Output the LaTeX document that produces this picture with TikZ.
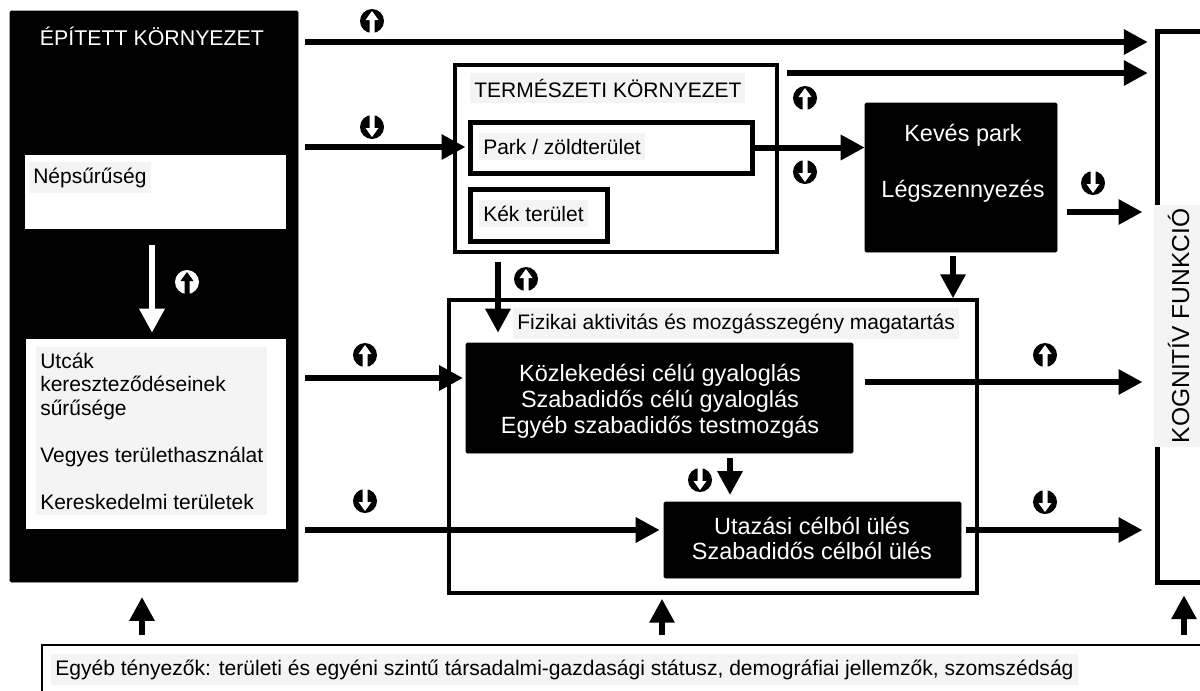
\documentclass[tikz,border=0pt]{standalone}
\usepackage{fontspec}
\setmainfont{Liberation Sans}
\usetikzlibrary{arrows.meta,fit}

\definecolor{hlgray}{RGB}{244,244,244}

\tikzset{
  flow/.style={line width=4.5pt,-{Triangle[length=18pt,width=18pt]}},
  blackbox/.style={fill=black,draw=black,rounded corners=1pt,inner sep=0pt},
  whitebox/.style={fill=white,inner sep=0pt},
  framebox/.style={draw=black,fill=white,inner sep=0pt,line width=#1},
  txt/.style={inner sep=0pt,font=\fontsize{15.75}{17.6}\selectfont},
  hl/.style={fill=hlgray,inner xsep=3pt,inner ysep=4pt},
  bigtxt/.style={inner sep=0pt,text=white,align=center,font=\fontsize{17.6}{19.5}\selectfont},
  pics/updown/.style 2 args={code={
    \fill[#1] (0,0) circle (12);
    \fill[#2] (-2.5,-12.5) -- (-2.5,1) -- (-6.5,1) -- (0,10) -- (6.5,1) -- (2.5,1) -- (2.5,-12.5) -- cycle;
  }},
}

\begin{document}
\begin{tikzpicture}[x=0.75pt,y=0.75pt,yscale=-1,xscale=1]
\useasboundingbox (0,0) rectangle (1200,690);
\clip (0,0) rectangle (1200,690);

%Shape: Rectangle - epitett kornyezet
\node[blackbox, fit={(10,11) (298,582)}] (epitett) {};
\node[whitebox, fit={(25,155) (286,229)}] (nepsur) {};
\node[whitebox, fit={(26,339) (286,529)}] (utcak) {};

%Shape: Rectangle - termeszeti kornyezet
\node[framebox=2.5pt, fit={(455,65) (777,252)}] (termeszet) {};
\node[framebox=3.75pt, fit={(470,122) (752,173)}] (park) {};
\node[framebox=3.75pt, fit={(470,189) (607,241)}] (kek) {};

%Shape: Rectangle - keves park
\node[blackbox, fit={(865,103) (1057,252)}] (keves) {};

%Shape: Rectangle - fizikai aktivitas
\node[framebox=2.5pt, fit={(449,300) (977,593)}] (fizikai) {};
\node[blackbox, fit={(466,343) (853,453)}] (kozl) {};
\node[blackbox, fit={(664,502) (961,578)}] (utazas) {};

%Shape: Rectangle - kognitiv funkcio
\node[framebox=3.75pt, fit={(1157,31) (1215,582)}] (kognitiv) {};

%Shape: Rectangle - egyeb tenyezok
\node[framebox=2pt, fit={(42,645) (1215,700)}] (egyeb) {};

% Text Node
\node[txt, text=white, anchor=base, font=\fontsize{16}{18}\selectfont] (epitettcim) at (152,45) {ÉPÍTETT KÖRNYEZET};
\node[txt, hl, anchor=base west] (nepsurt) at (29,183) {Népsűrűség};
\node[txt, hl, anchor=base west, align=left] (utcakt) at (36,509) {Utcák\\kereszteződéseinek\\sűrűsége\\[17.6pt]Vegyes területhasználat\\[17.6pt]Kereskedelmi területek};
\node[txt, hl, anchor=base west] (termeszett) at (470,97) {TERMÉSZETI KÖRNYEZET};
\node[txt, hl, anchor=base west] (parkt) at (479,154) {Park / zöldterület};
\node[txt, hl, anchor=base west] (kekt) at (479,221) {Kék terület};
\node[bigtxt, anchor=base] (kevest) at (963,141) {Kevés park};
\node[bigtxt, anchor=base] (legszt) at (963,197) {Légszennyezés};
\node[txt, hl, anchor=base west] (fizikait) at (513,329) {Fizikai aktivitás és mozgásszegény magatartás};
\node[bigtxt, anchor=base] (kozlt) at (660,433) {Közlekedési célú gyaloglás\\Szabadidős célú gyaloglás\\Egyéb szabadidős testmozgás};
\node[bigtxt, anchor=base, font=\fontsize{17.6}{18.75}\selectfont] (utazast) at (812,559) {Utazási célból ülés\\Szabadidős célból ülés};
\node[txt, hl, anchor=base, rotate=90, font=\fontsize{18.4}{20}\selectfont, inner ysep=10pt] (kognitivt) at (1189,326) {KOGNITÍV FUNKCIÓ};
\node[txt, hl, anchor=base west, font=\fontsize{15.8}{18}\selectfont] (egyebt) at (51,675) {Egyéb tényezők: területi és egyéni szintű társadalmi-gazdasági státusz, demográfiai jellemzők, szomszédság};

%Straight Lines
\coordinate (s1) at (305,42);
\coordinate (s2) at (787,73);
\coordinate (s3) at (305,147);
\coordinate (s5) at (1067,212);
\coordinate (s6) at (953,256);
\coordinate (s7) at (498,262);
\coordinate (s8) at (305,378);
\coordinate (s9) at (865,382);
\coordinate (s10) at (730,458);
\coordinate (s11) at (305,530);
\coordinate (s12) at (966,530);
\coordinate (w1) at (152,245);
\coordinate (b1) at (142,635);
\coordinate (b2) at (662,635);
\coordinate (b3) at (1184,635);

\draw[flow, shorten >=5pt] (s1) -- (s1 -| kognitiv.west);
\draw[flow, shorten >=5pt] (s2) -- (s2 -| kognitiv.west);
\draw[flow, shorten >=1.5pt] (s3) -- (s3 -| park.west);
\draw[flow] (park.east) -- (park.east -| keves.west);
\draw[flow, shorten >=9pt] (s5) -- (s5 -| kognitiv.west);
\draw[flow] (s6) -- (s6 |- fizikai.north);
\draw[flow, shorten >=7.5pt] (s7) -- (s7 |- kozl.north);
\draw[flow, shorten >=2pt] (s8) -- (s8 -| kozl.west);
\draw[flow, shorten >=9pt] (s9) -- (s9 -| kognitiv.west);
\draw[flow, shorten >=5pt] (s10) -- (s10 |- utazas.north);
\draw[flow, shorten >=3pt] (s11) -- (s11 -| utazas.west);
\draw[flow, shorten >=9pt] (s12) -- (s12 -| kognitiv.west);
\draw[flow, white, shorten >=4.5pt] (w1) -- (w1 |- utcak.north);
\draw[flow, shorten >=11pt] (b1) -- (b1 |- epitett.south);
\draw[flow, shorten >=3pt] (b2) -- (b2 |- fizikai.south);
\draw[flow, shorten >=8pt] (b3) -- (b3 |- kognitiv.south);

%Shape: Circle - up / down signs
\pic at (372,21) {updown={black}{white}};
\pic[rotate=180] at (372,127) {updown={black}{white}};
\pic at (805,98) {updown={black}{white}};
\pic[rotate=180] at (805,172) {updown={black}{white}};
\pic[rotate=180] at (1093,183) {updown={black}{white}};
\pic at (187,282) {updown={white}{black}};
\pic at (526,279) {updown={black}{white}};
\pic at (365,355) {updown={black}{white}};
\pic at (1045,355) {updown={black}{white}};
\pic[rotate=180] at (700,480) {updown={black}{white}};
\pic[rotate=180] at (365,501) {updown={black}{white}};
\pic[rotate=180] at (1045,502) {updown={black}{white}};

\end{tikzpicture}
\end{document}
